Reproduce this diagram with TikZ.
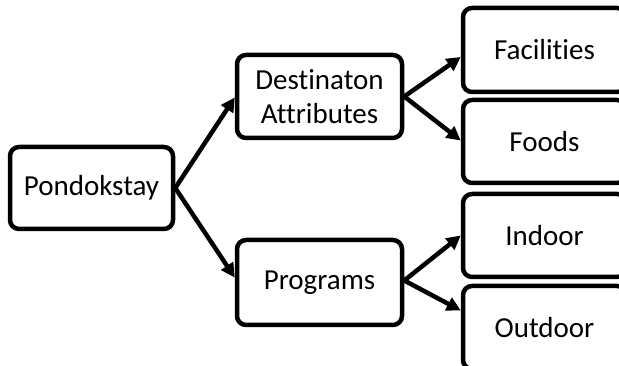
\documentclass[tikz,border=0pt]{standalone}
\usepackage{fontspec}
\setmainfont[Ligatures={NoCommon,NoRequired,NoContextual}]{Carlito}
\usetikzlibrary{arrows.meta,calc}
\begin{document}
\begin{tikzpicture}[x=1pt,y=-1pt,
  box/.style={draw=black,line width=4.5pt,rounded corners=9pt,fill=white,
    inner sep=0pt,align=center,font=\fontsize{29}{34}\selectfont},
  conn/.style={line width=4.5pt,-{Triangle[length=14pt,width=14pt]}}]
\useasboundingbox (0,0) rectangle (619,366);
\node[box,minimum width=163pt,minimum height=82pt] (p) at (91.5,188) {Pondokstay};
\node[box,minimum width=165pt,minimum height=83pt] (d) at (319.5,96.5) {Destinaton\\Attributes};
\node[box,minimum width=165pt,minimum height=85pt] (g) at (319.5,282.5) {Programs};
\node[box,minimum width=163pt,minimum height=84pt] (fa) at (544.5,50) {Facilities};
\node[box,minimum width=163pt,minimum height=83pt] (fo) at (544.5,141.5) {Foods};
\node[box,minimum width=163pt,minimum height=83pt] (in) at (544.5,235.5) {Indoor};
\node[box,minimum width=163pt,minimum height=83pt] (ou) at (544.5,327.5) {Outdoor};
\draw[conn] (p.east) -- ($(d.west)+(0,1)$);
\draw[conn] (p.east) -- ($(g.west)+(0,-5)$);
\draw[conn] (d.east) -- ($(fa.west)+(0,7)$);
\draw[conn] (d.east) -- ($(fo.west)+(0,-1)$);
\draw[conn] ($(g.east)+(0,-2)$) -- (in.west);
\draw[conn] ($(g.east)+(0,-2)$) -- ($(ou.west)+(0,-17)$);
\end{tikzpicture}
\end{document}
